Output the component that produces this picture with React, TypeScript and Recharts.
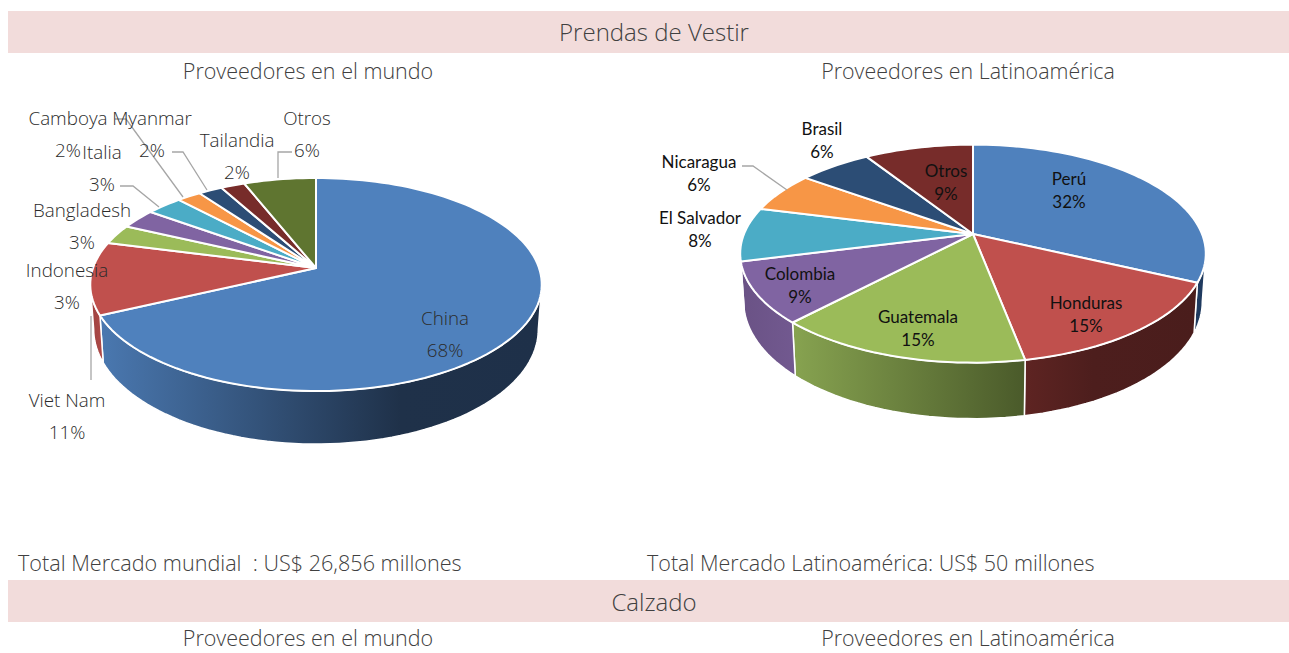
import React from "react";
import { PieChart, Pie } from "recharts";

// ---------- data ----------
const worldNames = ["China", "Viet Nam", "Indonesia", "Bangladesh", "Italia", "Camboya", "Myanmar", "Tailandia", "Otros"];
const worldShares = [68, 11, 3, 3, 3, 2, 2, 2, 6];
const latamNames = ["Perú", "Honduras", "Guatemala", "Colombia", "El Salvador", "Nicaragua", "Brasil", "Otros"];
const latamShares = [32, 15, 15, 9, 8, 6, 6, 9];

// ---------- styling and layout, kept apart from the data ----------
const worldColors = ["#4f81bd", "#c0504d", "#9bbb59", "#8064a2", "#4bacc6", "#f79646", "#2c4d75", "#772c2a", "#5f7530"];
const latamColors = ["#4f81bd", "#c0504d", "#9bbb59", "#8064a2", "#4bacc6", "#f79646", "#2c4d75", "#772c2a"];
const worldWalls = ["url(#wBlue)", "url(#wRed)", "#888", "#888", "#888", "#888", "#888", "#888", "#888"];
const latamWalls = ["#1f3a5f", "url(#lRed)", "url(#lGreen)", "url(#lPurple)", "#888", "#888", "#888", "#888"];

const worldLabelPos: Record<string, [number, number]> = {
  China: [445, 318], "Viet Nam": [67, 400], Indonesia: [67, 270], Bangladesh: [82, 210], Italia: [102, 152],
  Camboya: [68, 118], Myanmar: [152, 118], Tailandia: [237, 140], Otros: [307, 118],
};
const latamLabelPos: Record<string, [number, number]> = {
  "Perú": [1069, 178], Honduras: [1086, 302], Guatemala: [918, 316], Colombia: [800, 273],
  "El Salvador": [700, 217], Nicaragua: [699, 161], Brasil: [822, 128], Otros: [946, 170],
};
const worldLeaders: Record<string, string> = {
  "Viet Nam": "91,316 91,380",
  Italia: "120,186 133,186 159,207",
  Camboya: "115,119 126,119 183,197",
  Myanmar: "172,152 183,152 207,190",
  Otros: "292,152 278,152 278,178",
};
const latamLeaders: Record<string, string> = { Nicaragua: "742,166 753,166 787,190" };

type Persp = { k: number; s: number; d0: number; d1: number; sx: number };
const worldPersp: Persp = { k: 0.155, s: 104, d0: 43, d1: 10, sx: 0.985 };
const latamPersp: Persp = { k: 0.18, s: 105.5, d0: 46, d1: 10, sx: 0.985 };

const rows = (names: string[], shares: number[], fills: string[]) =>
  names.map((name, i) => ({ name, value: shares[i], fill: fills[i] }));

const project = (p: Persp, cx: number, cy: number, R: number, deg: number) => {
  const a = (deg * Math.PI) / 180;
  const u = Math.cos(a);
  const v = -Math.sin(a);
  const w = 1 - p.k * v;
  return { x: cx + (R * u) / w, y: cy + (p.s * v) / w, v };
};

const topShape = (p: Persp) => (props: any) => {
  const { cx, cy, outerRadius, startAngle, endAngle, fill } = props;
  const n = Math.max(2, Math.ceil(Math.abs(endAngle - startAngle) / 2));
  const pts = [];
  for (let i = 0; i <= n; i++) {
    const q = project(p, cx, cy, outerRadius, startAngle + ((endAngle - startAngle) * i) / n);
    pts.push(`${q.x.toFixed(2)} ${q.y.toFixed(2)}`);
  }
  return <path d={`M${cx} ${cy}L${pts.join("L")}Z`} fill={fill} stroke="#fff" strokeWidth={2} strokeLinejoin="round" />;
};

const wallShape = (p: Persp) => (props: any) => {
  const { cx, cy, outerRadius, startAngle, endAngle, fill } = props;
  // only the front of the disc shows a wall; limits are where the outline turns
  const lim = (Math.asin(p.k) * 180) / Math.PI;
  const hi = Math.min(startAngle, -lim);
  const lo = Math.max(endAngle, -180 + lim);
  if (hi <= lo) return <g />;
  const n = Math.max(2, Math.ceil((hi - lo) / 2));
  const upper = [];
  const lower = [];
  for (let i = 0; i <= n; i++) {
    const q = project(p, cx, cy, outerRadius, hi - ((hi - lo) * i) / n);
    upper.push(`${q.x.toFixed(2)} ${q.y.toFixed(2)}`);
    const bx = cx + (q.x - cx) * p.sx;
    const by = q.y + p.d0 + p.d1 * q.v;
    lower.unshift(`${bx.toFixed(2)} ${by.toFixed(2)}`);
  }
  return <path d={`M${upper.join("L")}L${lower.join("L")}Z`} fill={fill} stroke="#fff" strokeWidth={1.5} strokeLinejoin="round" />;
};

const labelFor =
  (pos: Record<string, [number, number]>, leaders: Record<string, string>, font: any, gap: number) =>
  (props: any) => {
    const { name, value } = props;
    const [x, y] = pos[name];
    return (
      <g>
        {leaders[name] ? <polyline points={leaders[name]} fill="none" stroke="#a6a6a6" strokeWidth={1.3} /> : null}
        <text x={x} y={y} textAnchor="middle" dominantBaseline="central" {...font}>{name}</text>
        <text x={x} y={y + gap} textAnchor="middle" dominantBaseline="central" {...font}>{`${value}%`}</text>
      </g>
    );
  };

const lightFont = { fontFamily: "'Open Sans'", fontWeight: 300, fontSize: 18.8, fill: "#2b2b2b" };
const latamFont = { fontFamily: "Lato", fontWeight: 400, fontSize: 17, fill: "#111" };

const textStyle: React.CSSProperties = {
  position: "absolute",
  fontFamily: "'Open Sans'",
  fontWeight: 300,
  color: "#404040",
  whiteSpace: "pre",
  lineHeight: "24px",
  height: 24,
};

const Centered = ({ x, y, size, children }: any) => (
  <div style={{ ...textStyle, left: x - 300, width: 600, top: y - 12, textAlign: "center", fontSize: size }}>{children}</div>
);
const Banner = ({ y, h }: any) => (
  <div style={{ position: "absolute", left: 8, top: y, width: 1281, height: h, background: "#f2dcdb" }} />
);

const worldCx = 316, worldCy = 268, worldR = 223;
const latamCx = 973, latamCy = 234, latamR = 229;

export default function App() {
  return (
    <div style={{ position: "absolute", left: 0, top: 0, width: 1289, height: 653, overflow: "hidden", background: "#fff" }}>
      <Banner y={11} h={42} />
      <Banner y={580} h={42} />
      <Centered x={654} y={32} size={24}>Prendas de Vestir</Centered>
      <Centered x={308} y={71} size={21.5}>Proveedores en el mundo</Centered>
      <Centered x={968} y={71} size={21.4}>Proveedores en Latinoamérica</Centered>
      <div style={{ ...textStyle, left: 18, top: 551, fontSize: 21.6 }}>Total Mercado mundial  : US$ 26,856 millones</div>
      <div style={{ ...textStyle, left: 647, top: 551, fontSize: 21.5 }}>Total Mercado Latinoamérica: US$ 50 millones</div>
      <Centered x={654} y={602} size={24}>Calzado</Centered>
      <Centered x={308} y={638} size={21.5}>Proveedores en el mundo</Centered>
      <Centered x={968} y={638} size={21.4}>Proveedores en Latinoamérica</Centered>

      <div style={{ position: "absolute", left: 0, top: 0 }}>
        <PieChart width={1289} height={653} margin={{ top: 0, right: 0, bottom: 0, left: 0 }}>
          <defs>
            <linearGradient id="wBlue" x1="0" y1="0" x2="1" y2="0">
              <stop offset="0" stopColor="#4a78b0" />
              <stop offset="0.68" stopColor="#1f3149" />
              <stop offset="1" stopColor="#1e3049" />
            </linearGradient>
            <linearGradient id="wRed" x1="0" y1="0" x2="1" y2="0">
              <stop offset="0" stopColor="#9c4240" />
              <stop offset="1" stopColor="#b04a48" />
            </linearGradient>
            <linearGradient id="lRed" x1="0" y1="0" x2="1" y2="0">
              <stop offset="0" stopColor="#5e2422" />
              <stop offset="0.4" stopColor="#4d1e1d" />
              <stop offset="1" stopColor="#4a1d1c" />
            </linearGradient>
            <linearGradient id="lGreen" x1="0" y1="0" x2="1" y2="0">
              <stop offset="0" stopColor="#87a350" />
              <stop offset="1" stopColor="#4a5a2a" />
            </linearGradient>
            <linearGradient id="lPurple" x1="0" y1="0" x2="1" y2="0">
              <stop offset="0" stopColor="#6a5285" />
              <stop offset="1" stopColor="#725990" />
            </linearGradient>
          </defs>
          <Pie
            data={rows(worldNames, worldShares, worldWalls)}
            dataKey="value"
            nameKey="name"
            cx={worldCx}
            cy={worldCy}
            outerRadius={worldR}
            startAngle={90}
            endAngle={-270}
            shape={wallShape(worldPersp)}
            isAnimationActive={false}
            label={false}
          />
          <Pie
            data={rows(worldNames, worldShares, worldColors)}
            dataKey="value"
            nameKey="name"
            cx={worldCx}
            cy={worldCy}
            outerRadius={worldR}
            startAngle={90}
            endAngle={-270}
            shape={topShape(worldPersp)}
            isAnimationActive={false}
            labelLine={false}
            label={labelFor(worldLabelPos, worldLeaders, lightFont, 32)}
          />
          <Pie
            data={rows(latamNames, latamShares, latamWalls)}
            dataKey="value"
            nameKey="name"
            cx={latamCx}
            cy={latamCy}
            outerRadius={latamR}
            startAngle={90}
            endAngle={-270}
            shape={wallShape(latamPersp)}
            isAnimationActive={false}
            label={false}
          />
          <Pie
            data={rows(latamNames, latamShares, latamColors)}
            dataKey="value"
            nameKey="name"
            cx={latamCx}
            cy={latamCy}
            outerRadius={latamR}
            startAngle={90}
            endAngle={-270}
            shape={topShape(latamPersp)}
            isAnimationActive={false}
            labelLine={false}
            label={labelFor(latamLabelPos, latamLeaders, latamFont, 23)}
          />
        </PieChart>
      </div>
    </div>
  );
}
